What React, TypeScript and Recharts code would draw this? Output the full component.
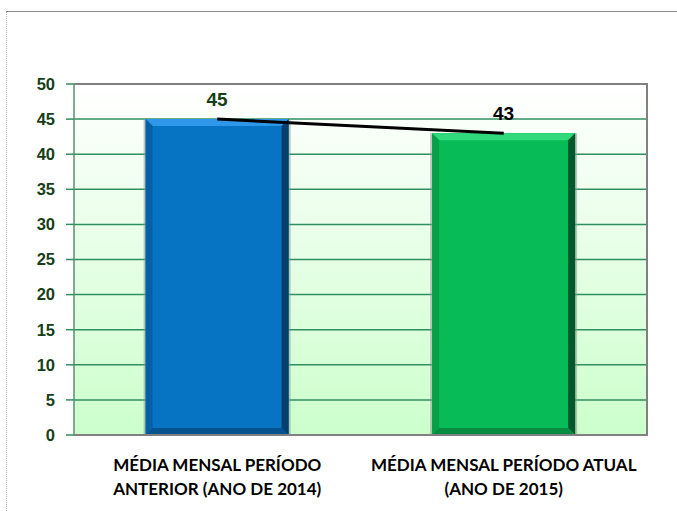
import { Bar, CartesianGrid, ComposedChart, LabelList, Line, XAxis, YAxis } from "recharts";

const categories = [
  "MÉDIA MENSAL PERÍODO\nANTERIOR (ANO DE 2014)",
  "MÉDIA MENSAL PERÍODO ATUAL\n(ANO DE 2015)",
];
const mediaValues = [45, 43];
const yTicks = [0, 5, 10, 15, 20, 25, 30, 35, 40, 45, 50];

// styles per bar (kept apart from the data)
const barColors = [
  { main: "#0773c3", top: "#2f97ea", left: "#0560a6", right: "#033f6c", bottom: "#04538f" },
  { main: "#07bb56", top: "#30d97b", left: "#06a049", right: "#03572a", bottom: "#058c40" },
];
const labelColors = ["#173f17", "#000000"];

const data = categories.map((name, i) => ({ name, media: mediaValues[i] }));

function BevelBar(props: any) {
  const { x, y, width, height, index } = props;
  if (!width || !height) return null;
  const c = barColors[index % barColors.length];
  const b = 7;
  const x2 = x + width;
  const y2 = y + height;
  return (
    <g>
      <rect x={x - 2} y={y} width={width + 4} height={height} fill="#8a9a90" opacity={0.55} />
      <rect x={x} y={y} width={width} height={height} fill={c.main} />
      <polygon points={`${x},${y} ${x2},${y} ${x2 - b},${y + b} ${x + b},${y + b}`} fill={c.top} />
      <polygon points={`${x},${y} ${x + b},${y + b} ${x + b},${y2 - b} ${x},${y2}`} fill={c.left} />
      <polygon points={`${x2},${y} ${x2},${y2} ${x2 - b},${y2 - b} ${x2 - b},${y + b}`} fill={c.right} />
      <polygon points={`${x},${y2} ${x + b},${y2 - b} ${x2 - b},${y2 - b} ${x2},${y2}`} fill={c.bottom} />
    </g>
  );
}

function CategoryTick(props: any) {
  const { x, y, payload } = props;
  const lines = String(payload.value).split("\n");
  return (
    <text
      x={x}
      y={y}
      textAnchor="middle"
      fill="#000"
      fontFamily="Lato, 'Open Sans', sans-serif"
      fontWeight={700}
      fontSize={17}
    >
      {lines.map((l, i) => (
        <tspan key={i} x={x} dy={i === 0 ? 28 : 24}>
          {l}
        </tspan>
      ))}
    </text>
  );
}

function ValueLabel(props: any) {
  const { x, y, width, value, index } = props;
  return (
    <text
      x={x + width / 2}
      y={y - 13}
      textAnchor="middle"
      fill={labelColors[index % labelColors.length]}
      fontFamily="'Liberation Sans', Arial, sans-serif"
      fontWeight={700}
      fontSize={19}
    >
      {value}
    </text>
  );
}

export default function App() {
  return (
    <div
      style={{
        position: "absolute",
        left: 0,
        top: 0,
        width: 677,
        height: 511,
        background: "#fff",
      }}
    >
      <div
        style={{
          position: "absolute",
          left: 6,
          top: 11,
          right: 0,
          bottom: 0,
          borderTop: "1px solid #8c8c8c",
          borderLeft: "1px dotted #b0b0b0",
        }}
      />
      <ComposedChart
        width={677}
        height={511}
        data={data}
        margin={{ top: 84, right: 30, bottom: 0, left: 0 }}
        barCategoryGap="25%"
        style={{ position: "absolute", left: 0, top: 0 }}
      >
        <defs>
          <linearGradient id="plotBg" x1="0" y1="0" x2="0" y2="1">
            <stop offset="0%" stopColor="#ffffff" />
            <stop offset="100%" stopColor="#ccffcc" />
          </linearGradient>
        </defs>
        <CartesianGrid vertical={false} stroke="#2f8f5f" strokeWidth={1.5} fill="url(#plotBg)" fillOpacity={1} />
        <XAxis
          dataKey="name"
          tick={<CategoryTick />}
          tickLine={false}
          axisLine={{ stroke: "#808080", strokeWidth: 2 }}
          interval={0}
          height={76}
        />
        <YAxis
          domain={[0, 50]}
          ticks={yTicks}
          interval={0}
          width={74}
          tickSize={8}
          tickMargin={11}
          axisLine={{ stroke: "#5a8f70", strokeWidth: 1.5 }}
          tickLine={{ stroke: "#2f8f5f", strokeWidth: 1.5 }}
          tick={{
            fill: "#173f17",
            fontFamily: "'Liberation Sans', Arial, sans-serif",
            fontWeight: 700,
            fontSize: 16.5,
          }}
        />
        <Bar dataKey="media" shape={<BevelBar />} isAnimationActive={false}>
          <LabelList dataKey="media" content={<ValueLabel />} />
        </Bar>
        <Line
          dataKey="media"
          type="linear"
          stroke="#000"
          strokeWidth={3}
          dot={false}
          activeDot={false}
          isAnimationActive={false}
        />
      </ComposedChart>
      {/* plot frame: top and right edges */}
      <div
        style={{
          position: "absolute",
          left: 74,
          top: 83,
          width: 572,
          height: 351,
          borderTop: "2px solid #808080",
          borderRight: "2px solid #808080",
          pointerEvents: "none",
        }}
      />
    </div>
  );
}
